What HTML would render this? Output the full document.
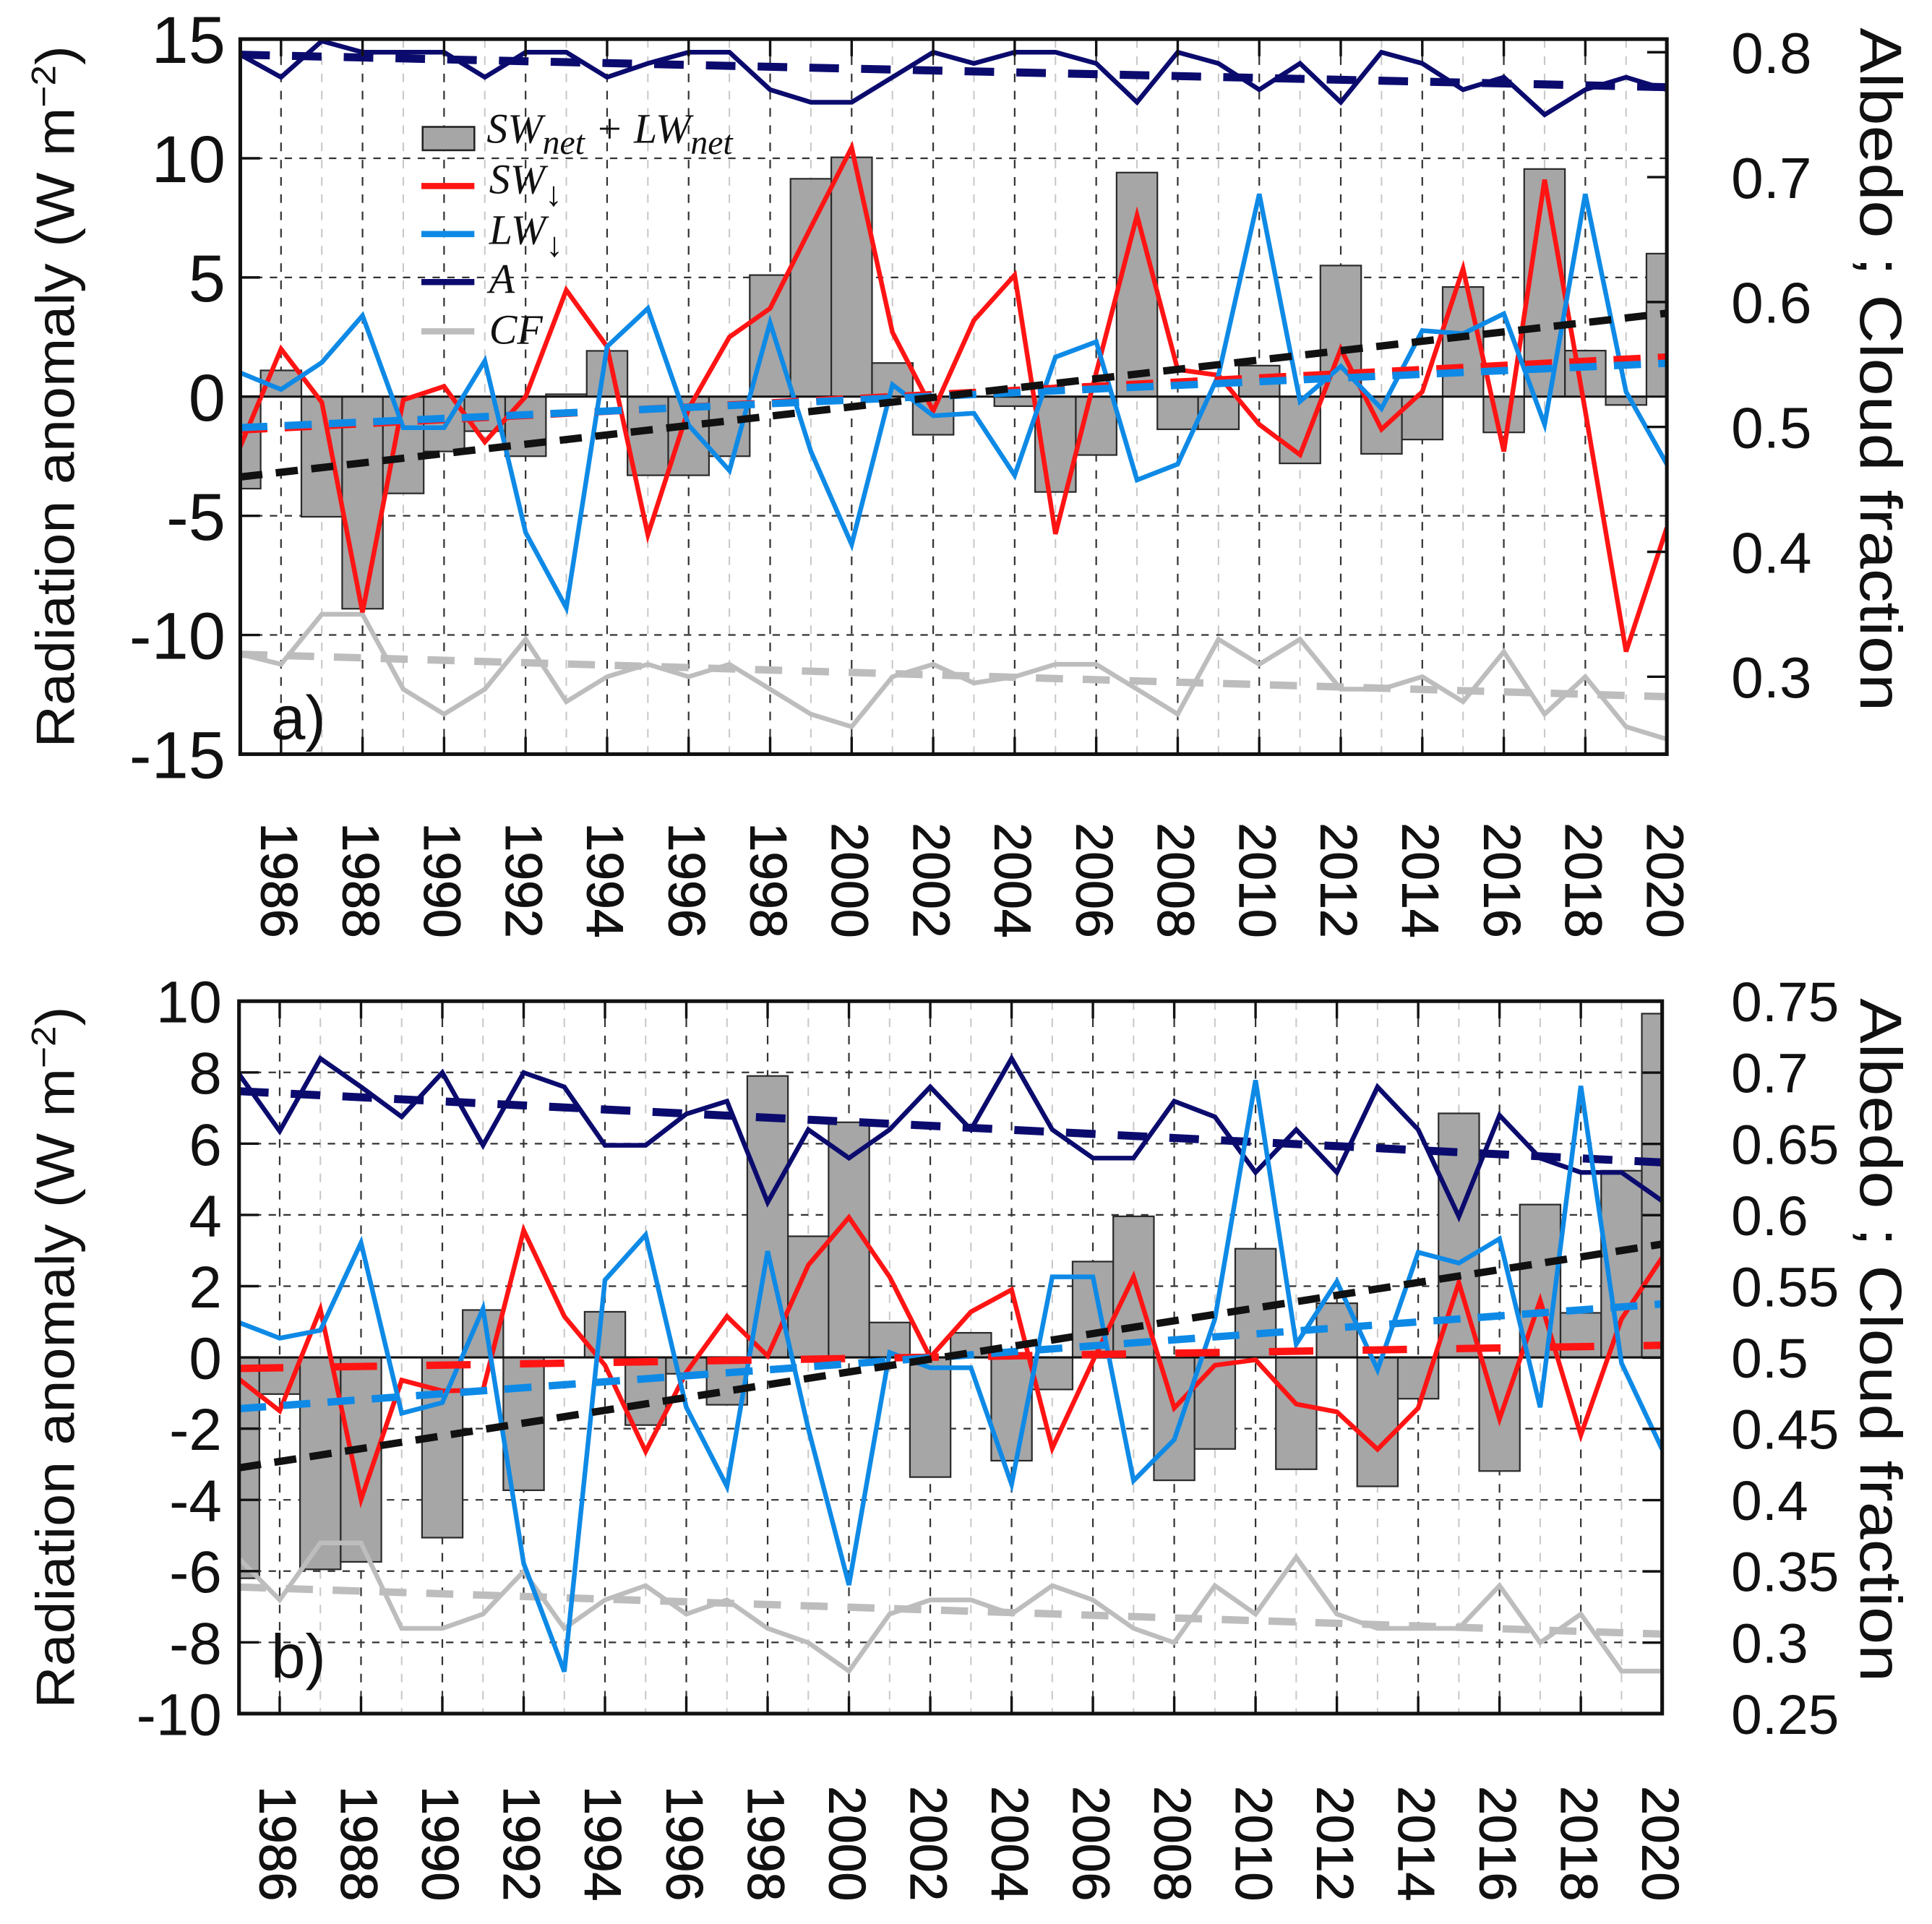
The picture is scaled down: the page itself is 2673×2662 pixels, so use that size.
<!DOCTYPE html>
<html><head><meta charset="utf-8"><style>
html,body{margin:0;padding:0;background:#fff;}
svg{display:block;}
</style></head><body>
<svg id="fig" xmlns="http://www.w3.org/2000/svg" width="2673" height="2662" viewBox="0 0 1568 1562" preserveAspectRatio="none" font-family="'Liberation Sans', sans-serif">
<rect x="0" y="0" width="1568" height="1562" fill="#fff"/>
</svg>
<script>
const years = [];
for (let y = 1985; y <= 2020; y++) years.push(y);

// Panel a data
const aNet = [-3.86,1.1,-5.04,-8.9,-4.06,-2.3,-1.45,-2.5,0.1,1.92,-3.3,-3.3,-2.5,5.1,9.14,10.04,1.41,-1.6,0,-0.4,-4.0,-2.45,9.4,-1.37,-1.37,1.3,-2.8,5.5,-2.4,-1.8,4.6,-1.5,9.55,1.93,-0.35,6.0];
const aSW = [-2.1,2.0,-0.24,-9.05,-0.14,0.43,-1.9,0,4.47,2.1,-5.8,-0.5,2.5,3.7,7.1,10.45,2.7,-0.6,3.2,5.1,-5.76,1.0,7.6,1.13,0.9,-1.17,-2.44,2.0,-1.37,0.2,5.37,-2.3,9.1,-0.6,-10.7,-5.5];
const aLW = [1.0,0.3,1.43,3.4,-1.3,-1.3,1.5,-5.7,-8.86,2.1,3.7,-1.2,-3.1,3.1,-2.3,-6.2,0.5,-0.8,-0.7,-3.3,1.66,2.3,-3.5,-2.83,0.9,8.5,-0.2,1.27,-0.5,2.77,2.64,3.48,-1.17,8.5,0.2,-2.83];
const aAlb = [0.798,0.78,0.809,0.8,0.8,0.8,0.78,0.8,0.8,0.78,0.791,0.8,0.8,0.77,0.76,0.76,0.78,0.8,0.791,0.8,0.8,0.791,0.76,0.8,0.791,0.77,0.791,0.76,0.8,0.791,0.77,0.78,0.75,0.77,0.78,0.77];
const aCF = [0.318,0.31,0.35,0.35,0.29,0.27,0.29,0.33,0.28,0.30,0.31,0.30,0.31,0.29,0.27,0.26,0.30,0.31,0.295,0.30,0.31,0.31,0.29,0.27,0.33,0.31,0.33,0.29,0.29,0.30,0.28,0.32,0.27,0.30,0.26,0.25];
const aTrendNet = [-3.37,3.5];
const aTrendSW = [-1.4,1.66];
const aTrendLW = [-1.3,1.4];
const aTrendAlb = [0.798,0.772];
const aTrendCF = [0.318,0.284];
const aLeftTicks = [15,10,5,0,-5,-10,-15];
const aRightTicks = [0.8,0.7,0.6,0.5,0.4,0.3];

// Panel b data
const bNet = [-6.2,-1.03,-5.95,-5.74,0,-5.06,1.33,-3.73,0,1.28,-1.9,-0.46,-1.33,7.9,3.4,6.6,0.98,-3.36,0.69,-2.9,-0.9,2.69,3.96,-3.45,-2.57,3.05,-3.14,1.52,-3.62,-1.16,6.85,-3.19,4.29,1.25,5.24,9.65];
const bSW = [-0.61,-1.5,1.35,-3.99,-0.64,-0.94,-0.92,3.57,1.15,-0.22,-2.64,-0.42,1.15,0.04,2.59,3.93,2.26,0,1.28,1.9,-2.55,-0.1,2.26,-1.42,-0.22,-0.07,-1.31,-1.53,-2.58,-1.42,2.1,-1.73,1.6,-2.18,1.08,2.8];
const bLW = [0.98,0.54,0.76,3.22,-1.57,-1.27,1.37,-5.78,-8.82,2.17,3.44,-1.4,-3.62,2.98,-2.0,-6.39,0.14,-0.29,-0.29,-3.56,2.26,2.26,-3.46,-2.31,1.08,7.78,0.37,2.13,-0.35,2.95,2.65,3.33,-1.4,7.62,-0.16,-2.58];
const bAlb = [0.699,0.659,0.71,0.69,0.669,0.70,0.649,0.70,0.69,0.649,0.649,0.671,0.68,0.609,0.66,0.64,0.66,0.69,0.66,0.71,0.66,0.64,0.64,0.68,0.669,0.63,0.66,0.63,0.69,0.66,0.599,0.67,0.64,0.63,0.63,0.61];
const bCF = [0.359,0.33,0.37,0.37,0.31,0.31,0.32,0.35,0.31,0.33,0.34,0.32,0.33,0.31,0.30,0.28,0.32,0.33,0.33,0.32,0.34,0.33,0.31,0.30,0.34,0.32,0.36,0.32,0.31,0.31,0.31,0.34,0.30,0.32,0.28,0.28];
const bTrendNet = [-3.1,3.18];
const bTrendSW = [-0.31,0.34];
const bTrendLW = [-1.44,1.5];
const bTrendAlb = [0.687,0.637];
const bTrendCF = [0.339,0.306];
const bLeftTicks = [10,8,6,4,2,0,-2,-4,-6,-8,-10];
const bRightTicks = [0.75,0.7,0.65,0.6,0.55,0.5,0.45,0.4,0.35,0.3,0.25];
const yearTicks = [1986,1988,1990,1992,1994,1996,1998,2000,2002,2004,2006,2008,2010,2012,2014,2016,2018,2020];

const NS = 'http://www.w3.org/2000/svg';
const svg = document.getElementById('fig');
function mk(tag, attrs, parent) {
  const e = document.createElementNS(NS, tag);
  for (const k in attrs) e.setAttribute(k, attrs[k]);
  (parent || svg).appendChild(e);
  return e;
}

function drawPanel(cfg) {
  const g = mk('g', {});
  
  
  const X = yr => cfg.x0 + (yr - 1985) * cfg.dx;
  const Y = v => cfg.yZero - v * cfg.yUnit;
  const R = a => cfg.rTop + (cfg.rMax - a) * cfg.rUnit;
  const L = cfg.x0, Rt = X(2020), T = Y(cfg.lMax), B = Y(-cfg.lMax);

  const cid = cfg.name + '-clip';
  const cp = mk('clipPath', {id: cid}, g);
  mk('rect', {x: L, y: T, width: Rt - L, height: B - T}, cp);

  for (let yr = 1987; yr <= 2019; yr += 2) {
    const ln = mk('line', {x1: X(yr), x2: X(yr), y1: T, y2: B, stroke: '#c8c8c8', 'stroke-width': 1.2, 'stroke-dasharray': '7 7'}, g);
    
    
  }
  yearTicks.forEach(yr => {
    const ln = mk('line', {x1: X(yr), x2: X(yr), y1: T, y2: B, stroke: '#333', 'stroke-width': 1.3, 'stroke-dasharray': '7 7'}, g);
    
    
  });
  cfg.leftTicks.forEach(v => {
    if (v === 0 || Math.abs(v) === cfg.lMax) return;
    const ln = mk('line', {x1: L, x2: Rt, y1: Y(v), y2: Y(v), stroke: '#333', 'stroke-width': 1.3, 'stroke-dasharray': '6 6'}, g);
    
    
  });

  const clipG = mk('g', {'clip-path': 'url(#' + cid + ')'}, g);
  cfg.net.forEach((v, i) => {
    const x = X(years[i]) - cfg.dx / 2;
    const r = mk('rect', {x: x, y: Math.min(Y(0), Y(v)), width: cfg.dx, height: Math.abs(Y(v) - Y(0)), fill: '#a6a6a6', stroke: '#2a2a2a', 'stroke-width': 1.3}, clipG);
    
    
  });
  const z = mk('line', {x1: L, x2: Rt, y1: Y(0), y2: Y(0), stroke: '#111', 'stroke-width': 1.8}, clipG);
  
  

  function poly(vals, fy, color, w, name) {
    const pts = vals.map((v, i) => X(years[i]).toFixed(1) + ',' + fy(v).toFixed(1)).join(' ');
    const p = mk('polyline', {points: pts, fill: 'none', stroke: color, 'stroke-width': w, 'stroke-linejoin': 'miter'}, clipG);
    
    
  }
  function trend(tr, fy, color, w, dash, name) {
    const p = mk('line', {x1: X(1985), y1: fy(tr[0]), x2: X(2020), y2: fy(tr[1]), stroke: color, 'stroke-width': w, 'stroke-dasharray': dash}, clipG);
    
    
  }
  trend(cfg.tCF, R, '#bdbdbd', 6, '22 16', 'cf-trend');
  trend(cfg.tAlb, R, '#0b0b6e', 6.5, '24 18', 'albedo-trend');
  poly(cfg.cf, R, '#bdbdbd', 3.8, 'cloud-fraction-line');
  poly(cfg.alb, R, '#0b0b6e', 3.8, 'albedo-line');
  poly(cfg.sw, Y, '#ff1414', 3.8, 'sw-down-line');
  poly(cfg.lw, Y, '#0e8ae6', 3.8, 'lw-down-line');
  trend(cfg.tSW, Y, '#ff1414', 6, cfg.swDash, 'sw-trend');
  trend(cfg.tLW, Y, '#0e8ae6', 6, '22 14', 'lw-trend');
  trend(cfg.tNet, Y, '#111', 6, '18 11', 'net-trend');

  const fr = mk('rect', {x: L, y: T, width: Rt - L, height: B - T, fill: 'none', stroke: '#111', 'stroke-width': 3}, g);
  
  

  yearTicks.forEach(yr => {
    mk('line', {x1: X(yr), x2: X(yr), y1: T, y2: T + 14, stroke: '#111', 'stroke-width': 2}, g);
    mk('line', {x1: X(yr), x2: X(yr), y1: B, y2: B - 14, stroke: '#111', 'stroke-width': 2}, g);
    const t = mk('text', {x: X(yr) - 16, y: cfg.yearY, transform: 'rotate(90 ' + (X(yr) - 16) + ' ' + cfg.yearY + ')', 'font-size': 42, fill: '#111', stroke: '#111', 'stroke-width': 0.6}, g);
    t.textContent = yr;
    
    
  });
  cfg.leftTicks.forEach(v => {
    mk('line', {x1: L, x2: L + 16, y1: Y(v), y2: Y(v), stroke: '#111', 'stroke-width': 2}, g);
    const t = mk('text', {x: cfg.leftLabelX, y: Y(v) + cfg.lFont * 0.36, 'text-anchor': 'end', 'font-size': cfg.lFont, fill: '#111'}, g);
    t.textContent = v;
    
    
  });
  cfg.rightTicks.forEach(a => {
    mk('line', {x1: Rt, x2: Rt - 16, y1: R(a), y2: R(a), stroke: '#111', 'stroke-width': 2}, g);
    const t = mk('text', {x: 1405, y: R(a) + cfg.rFont * 0.36, 'font-size': cfg.rFont, fill: '#111'}, g);
    t.textContent = String(a);
    
    
  });
  const cy = (T + B) / 2;
  const lt = mk('text', {x: 60, y: cy, transform: 'rotate(-90 60 ' + cy + ')', 'text-anchor': 'middle', 'font-size': 44, textLength: 570, lengthAdjust: 'spacingAndGlyphs', fill: '#111'}, g);
  lt.innerHTML = 'Radiation anomaly (W m<tspan baseline-shift="super" font-size="28">−2</tspan>)';
  
  
  const rcy = cfg.rTitleY;
  const rt = mk('text', {x: 1510, y: rcy, transform: 'rotate(90 1510 ' + rcy + ')', 'text-anchor': 'middle', 'font-size': 48, textLength: 555, lengthAdjust: 'spacingAndGlyphs', fill: '#111'}, g);
  rt.textContent = 'Albedo ; Cloud fraction';
  
  
  const pl = mk('text', {x: 220, y: cfg.labelY, 'font-size': 50, fill: '#111'}, g);
  pl.textContent = cfg.label;
  
  
}

drawPanel({name: 'panel-a', x0: 195, dx: 33.08, yZero: 322, yUnit: 19.35, lMax: 15,
  rTop: 42.4, rMax: 0.8, rUnit: 1014,
  net: aNet, sw: aSW, lw: aLW, alb: aAlb, cf: aCF,
  tNet: aTrendNet, tSW: aTrendSW, tLW: aTrendLW, tAlb: aTrendAlb, tCF: aTrendCF, swDash: '22 14',
  leftTicks: aLeftTicks, rightTicks: aRightTicks, leftLabelX: 183, lFont: 54, rFont: 47,
  yearY: 668, rTitleY: 300, labelY: 600, label: 'a)'});

drawPanel({name: 'panel-b', x0: 194, dx: 33.0, yZero: 1102, yUnit: 28.92, lMax: 10,
  rTop: 813, rMax: 0.75, rUnit: 1156.8,
  net: bNet, sw: bSW, lw: bLW, alb: bAlb, cf: bCF,
  tNet: bTrendNet, tSW: bTrendSW, tLW: bTrendLW, tAlb: bTrendAlb, tCF: bTrendCF, swDash: '36 40',
  leftTicks: bLeftTicks, rightTicks: bRightTicks, leftLabelX: 180, lFont: 48, rFont: 45,
  yearY: 1450, rTitleY: 1088, labelY: 1362, label: 'b)'});

const lg = mk('g', {'font-family': "'Liberation Serif', serif", 'font-style': 'italic', 'font-size': 34, fill: '#111'});


const lr = mk('rect', {x: 343, y: 103, width: 42, height: 19, fill: '#a6a6a6', stroke: '#222', 'stroke-width': 1.5}, lg);


const lt0 = mk('text', {x: 395, y: 116}, lg);
lt0.innerHTML = 'SW<tspan font-size="28" dy="9">net</tspan><tspan dy="-9"> + LW</tspan><tspan font-size="28" dy="9">net</tspan>';


const legItems = [['#ff1414', 151, 157, 'SW', '↓', 'legend-sw-down'], ['#0e8ae6', 190, 198, 'LW', '↓', 'legend-lw-down'], ['#0b0b6e', 229, 238, 'A', '', 'legend-albedo'], ['#bdbdbd', 269, 279, 'CF', '', 'legend-cloud-fraction']];
legItems.forEach(it => {
  const l = mk('line', {x1: 342, x2: 385, y1: it[1], y2: it[1], stroke: it[0], 'stroke-width': 5}, lg);
  
  
  const t = mk('text', {x: 397, y: it[2]}, lg);
  t.innerHTML = it[3] + (it[4] ? '<tspan font-style="normal" font-size="28" dy="10">' + it[4] + '</tspan>' : '');
  
  
});
</script>
</body></html>
